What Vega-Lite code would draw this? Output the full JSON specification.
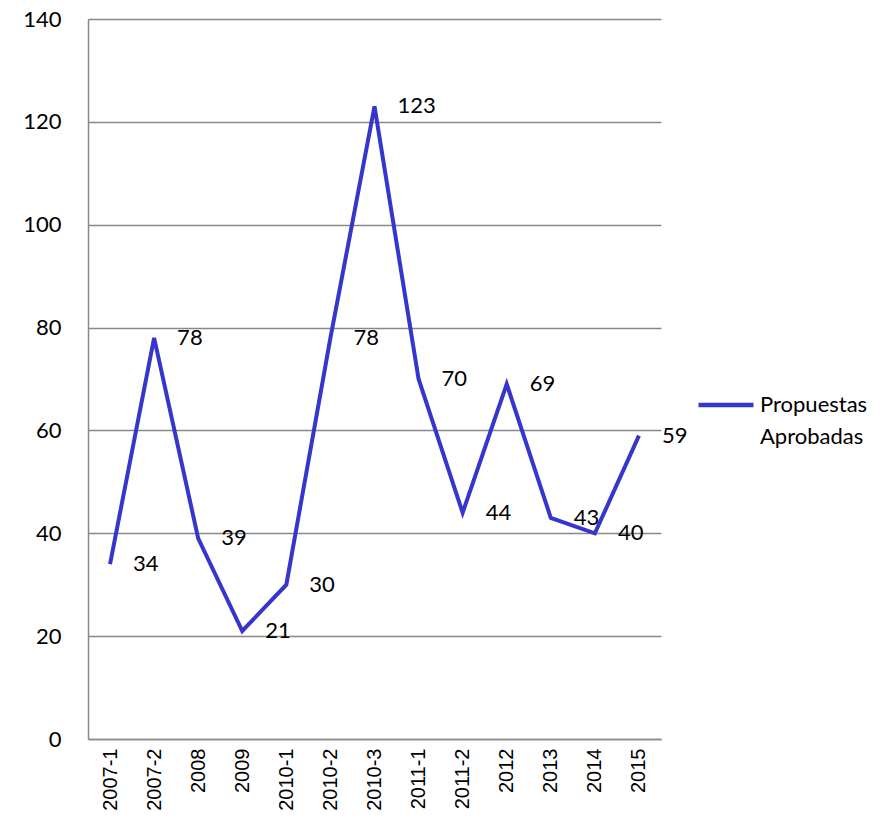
{
  "$schema": "https://vega.github.io/schema/vega-lite/v6.json",
  "width": 573,
  "height": 720,
  "padding": {"left": 22, "top": 8, "right": 0, "bottom": 0},
  "background": "white",
  "config": {"view": {"stroke": null}, "style": {"guide-label": {"lineHeight": 32}}},
  "data": {
    "values": [
      {"periodo": "2007-1", "valor": 34, "serie": "Propuestas Aprobadas"},
      {"periodo": "2007-2", "valor": 78, "serie": "Propuestas Aprobadas"},
      {"periodo": "2008", "valor": 39, "serie": "Propuestas Aprobadas"},
      {"periodo": "2009", "valor": 21, "serie": "Propuestas Aprobadas"},
      {"periodo": "2010-1", "valor": 30, "serie": "Propuestas Aprobadas"},
      {"periodo": "2010-2", "valor": 78, "serie": "Propuestas Aprobadas"},
      {"periodo": "2010-3", "valor": 123, "serie": "Propuestas Aprobadas"},
      {"periodo": "2011-1", "valor": 70, "serie": "Propuestas Aprobadas"},
      {"periodo": "2011-2", "valor": 44, "serie": "Propuestas Aprobadas"},
      {"periodo": "2012", "valor": 69, "serie": "Propuestas Aprobadas"},
      {"periodo": "2013", "valor": 43, "serie": "Propuestas Aprobadas"},
      {"periodo": "2014", "valor": 40, "serie": "Propuestas Aprobadas"},
      {"periodo": "2015", "valor": 59, "serie": "Propuestas Aprobadas"}
    ]
  },
  "encoding": {
    "x": {
      "field": "periodo",
      "type": "ordinal",
      "sort": null,
      "scale": {"type": "point", "padding": 0.5},
      "axis": {
        "title": null,
        "labelAngle": -90,
        "labelAlign": "right",
        "labelBaseline": "middle",
        "labelFont": "Liberation Sans",
        "labelFontSize": 20,
        "labelColor": "#000000",
        "labelPadding": 9,
        "ticks": false,
        "domainColor": "#888888",
        "domainWidth": 1.5,
        "grid": false
      }
    },
    "y": {
      "field": "valor",
      "type": "quantitative",
      "scale": {"domain": [0, 140], "nice": false},
      "axis": {
        "title": null,
        "values": [0, 20, 40, 60, 80, 100, 120, 140],
        "labelFont": "Lato",
        "labelFontSize": 22,
        "labelColor": "#000000",
        "labelPadding": 27,
        "ticks": false,
        "domainColor": "#888888",
        "domainWidth": 1.5,
        "gridColor": "#888888",
        "gridWidth": 1.5
      }
    }
  },
  "layer": [
    {
      "mark": {"type": "line", "strokeWidth": 4, "strokeJoin": "miter"},
      "encoding": {
        "color": {
          "field": "serie",
          "type": "nominal",
          "scale": {"range": ["#3636CC"]},
          "legend": {
            "title": null,
            "orient": "none",
            "legendX": 608,
            "legendY": 356,
            "symbolType": "stroke",
            "symbolSize": 3025,
            "symbolStrokeWidth": 4.5,
            "labelFont": "Lato",
            "labelFontSize": 22,
            "labelColor": "#000000",
            "labelOffset": 4,
            "labelLimit": 200,
            "labelExpr": "['Propuestas', 'Aprobadas']"
          }
        }
      }
    },
    {
      "mark": {
        "type": "text",
        "align": "left",
        "baseline": "middle",
        "dx": 23,
        "font": "Lato",
        "fontSize": 22,
        "color": "#000000"
      },
      "encoding": {"text": {"field": "valor", "type": "quantitative"}}
    }
  ]
}
